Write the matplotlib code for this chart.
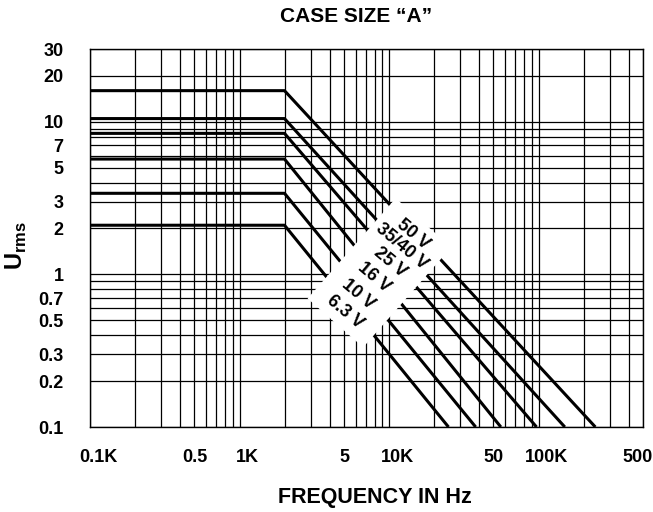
import matplotlib
matplotlib.use('Agg')
import matplotlib.pyplot as plt
from matplotlib.ticker import LogLocator, NullFormatter
from matplotlib.patches import Polygon
from matplotlib.transforms import IdentityTransform
import numpy as np

plt.rcParams['font.family'] = ['Liberation Sans', 'DejaVu Sans']
plt.rcParams['font.weight'] = 'bold'
plt.rcParams['mathtext.fontset'] = 'custom'
plt.rcParams['mathtext.rm'] = 'Liberation Sans:bold'
plt.rcParams['mathtext.bf'] = 'Liberation Sans:bold'

# rated voltages and their ripple voltage curves
voltages = ['50 V', '35/40 V', '25 V', '16 V', '10 V', '6.3 V']
u_flat = [16, 10.5, 8.4, 5.7, 3.4, 2.1]
f_start = 100
f_knee = 2000
f_end = [240e3, 150e3, 97e3, 56e3, 38e3, 25e3]
u_end = 0.1

# where the voltage labels sit
label_f = [14.6e3, 12.2e3, 10.1e3, 8.0e3, 6.2e3, 5.1e3]
label_u = [1.84, 1.52, 1.19, 0.96, 0.74, 0.57]

x_ticks = [100, 500, 1000, 5000, 10000, 50000, 100000, 500000]
x_labels = ['0.1K', '0.5', '1K', '5', '10K', '50', '100K', '500']
y_ticks = [0.1, 0.2, 0.3, 0.5, 0.7, 1, 2, 3, 5, 7, 10, 20, 30]
y_labels = ['0.1', '0.2', '0.3', '0.5', '0.7', '1', '2', '3', '5', '7', '10', '20', '30']

fig = plt.figure(figsize=(6.53, 5.12), dpi=100)
ax = fig.add_axes([90 / 653, 85 / 512, 553 / 653, 378 / 512])
ax.set_xscale('log')
ax.set_yscale('log')
ax.set_xlim(100, 5e5)
ax.set_ylim(0.1, 30)

ax.xaxis.set_minor_locator(LogLocator(base=10, subs=np.arange(1, 10), numticks=30))
ax.yaxis.set_minor_locator(LogLocator(base=10, subs=np.arange(1, 10), numticks=30))
ax.xaxis.set_minor_formatter(NullFormatter())
ax.yaxis.set_minor_formatter(NullFormatter())
ax.set_xticks(x_ticks, labels=[''] * len(x_ticks))
ax.set_yticks(y_ticks, labels=y_labels, fontsize=13, fontweight='bold')
ax.tick_params(which='both', length=0)
ax.tick_params(axis='y', pad=19)
ax.grid(True, which='both', color='black', lw=0.9)
ax.set_axisbelow(True)
for s in ax.spines.values():
    s.set_linewidth(1.0)

for u, fe in zip(u_flat, f_end):
    ax.plot([f_start, f_knee, fe], [u, u, u_end], color='black', lw=2.2,
            solid_capstyle='butt', zorder=3)

# white band behind the voltage labels
pts = ax.transData.transform(np.column_stack([label_f, label_u]))
d = pts[-1] - pts[0]
d = d / np.hypot(*d)
n = np.array([-d[1], d[0]])
p0 = pts[0] - 15 * d
p1 = pts[-1] + 15 * d
band = np.array([p0 + 37 * n, p1 + 37 * n, p1 - 37 * n, p0 - 37 * n])
ax.add_patch(Polygon(band, closed=True, transform=IdentityTransform(),
                     fc='white', ec='none', zorder=3.5))

for lab, f, u in zip(voltages, label_f, label_u):
    ax.text(f, u, lab, rotation=-40, rotation_mode='anchor', ha='center', va='center',
            fontsize=13, fontweight='bold', zorder=4)

for t, lab in zip(x_ticks, x_labels):
    if 'K' in lab:
        dx = 6
    elif lab == '500':
        dx = -4
    else:
        dx = 0
    ax.annotate(lab, xy=(t, 0), xycoords=('data', 'axes fraction'),
                xytext=(dx, -22), textcoords='offset points',
                ha='center', va='center', fontsize=13, fontweight='bold',
                annotation_clip=False)

fig.text(356 / 653, 1 - 17 / 512, 'CASE SIZE “A”', ha='center', va='center',
         fontsize=15, fontweight='bold')
fig.text(375 / 653, 1 - 497 / 512, 'FREQUENCY IN Hz', ha='center', va='center',
         fontsize=15.5, fontweight='bold')
fig.text(16 / 653, 1 - 246 / 512, r'U$_{\mathrm{rms}}$', rotation=90, ha='center',
         va='center', fontsize=17, fontweight='bold')

fig.savefig('out.png', dpi=100)
